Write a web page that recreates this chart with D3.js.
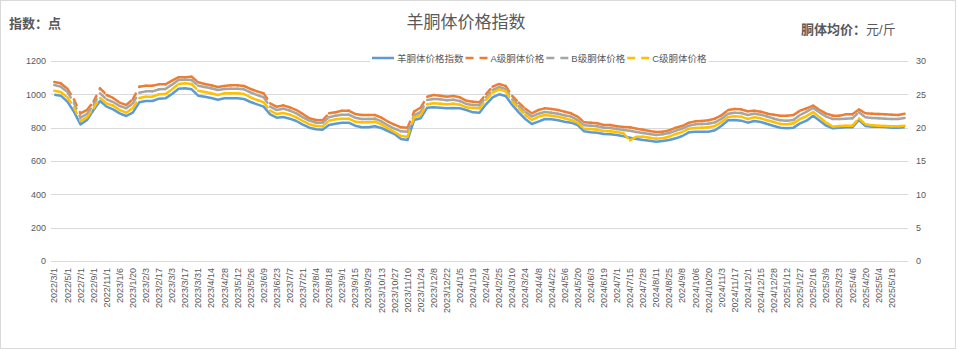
<!DOCTYPE html>
<html>
  <head>
    <meta charset="utf-8">
    <title>羊胴体价格指数</title>
    <style>
      body { margin: 0; background: white; }
      text { font-family: "Liberation Sans", "Noto Sans CJK SC", sans-serif; fill: #595959; }
      .grid line { stroke: #d9d9d9; stroke-width: 1; }
      .seg { stroke-width: 2.5; stroke-linecap: round; stroke-dasharray: 6.5 7.5; }
    </style>
  </head>
  <body>
    <svg width="957" height="351"></svg>
    <script src="https://cdn.jsdelivr.net/npm/d3@7/dist/d3.min.js"></script>
    <script type="application/javascript">
      const dates = [
        '2022/3/1', '2022/4/1', '2022/5/1', '2022/6/1', '2022/7/1', '2022/8/1', '2022/9/1', '2022/10/1',
        '2022/11/1', '2022/12/1', '2023/1/6', '2023/1/13', '2023/1/20', '2023/1/27', '2023/2/3', '2023/2/10',
        '2023/2/17', '2023/2/24', '2023/3/3', '2023/3/10', '2023/3/17', '2023/3/24', '2023/3/31', '2023/4/7',
        '2023/4/14', '2023/4/21', '2023/4/28', '2023/5/5', '2023/5/12', '2023/5/19', '2023/5/26', '2023/6/2',
        '2023/6/9', '2023/6/16', '2023/6/23', '2023/6/30', '2023/7/7', '2023/7/14', '2023/7/21', '2023/7/28',
        '2023/8/4', '2023/8/11', '2023/8/18', '2023/8/25', '2023/9/1', '2023/9/8', '2023/9/15', '2023/9/22',
        '2023/9/29', '2023/10/6', '2023/10/13', '2023/10/20', '2023/10/27', '2023/11/3', '2023/11/10', '2023/11/17',
        '2023/11/24', '2023/12/1', '2023/12/8', '2023/12/15', '2023/12/22', '2023/12/29', '2024/1/5', '2024/1/12',
        '2024/1/19', '2024/1/26', '2024/2/4', '2024/2/18', '2024/2/25', '2024/3/3', '2024/3/10', '2024/3/17',
        '2024/3/24', '2024/3/31', '2024/4/8', '2024/4/15', '2024/4/22', '2024/4/29', '2024/5/6', '2024/5/13',
        '2024/5/20', '2024/5/27', '2024/6/3', '2024/6/11', '2024/6/19', '2024/6/24', '2024/7/1', '2024/7/8',
        '2024/7/15', '2024/7/21', '2024/7/28', '2024/8/4', '2024/8/11', '2024/8/18', '2024/8/25', '2024/9/1',
        '2024/9/8', '2024/9/22', '2024/10/6', '2024/10/13', '2024/10/20', '2024/10/27', '2024/11/3', '2024/11/10',
        '2024/11/17', '2024/11/24', '2024/12/1', '2024/12/8', '2024/12/15', '2024/12/22', '2024/12/28', '2025/1/5',
        '2025/1/12', '2025/1/19', '2025/1/27', '2025/2/9', '2025/2/16', '2025/2/23', '2025/3/9', '2025/3/16',
        '2025/3/23', '2025/3/30', '2025/4/6', '2025/4/13', '2025/4/20', '2025/4/27', '2025/5/4', '2025/5/11',
        '2025/5/18', '2025/5/25', '2025/6/1'
      ];

      // 羊胴体价格指数 (left axis, 点)
      const indexValues = [
        998, 992, 956, 896, 820, 846, 906, 960, 926, 910, 886, 870, 890, 952, 960, 960,
        974, 976, 1002, 1034, 1036, 1030, 992, 986, 978, 968, 976, 976, 976, 972, 954, 940,
        926, 880, 860, 864, 854, 840, 818, 800, 790, 788, 816, 824, 830, 830, 812, 802,
        802, 808, 798, 780, 762, 732, 726, 846, 856, 920, 922, 920, 916, 918, 916, 906,
        892, 890, 940, 982, 1000, 990, 936, 892, 852, 822, 836, 852, 850, 844, 836, 830,
        816, 778, 772, 770, 762, 760, 756, 748, 740, 732, 726, 722, 716, 720, 726, 736,
        750, 772, 776, 776, 776, 784, 812, 844, 846, 842, 830, 840, 834, 822, 810, 800,
        796, 800, 826, 842, 872, 842, 812, 796, 800, 802, 802, 846, 810, 806, 806, 804,
        800, 800, 802
      ];

      // 胴体均价 (right axis, 元/斤)
      const gradeA = [
        26.85, 26.65, 25.85, 24.25, 22.15, 22.65, 23.9, 25.9, 24.9, 24.45, 23.75, 23.4, 24.25, 26.15, 26.3, 26.3,
        26.5, 26.5, 27.05, 27.55, 27.55, 27.65, 26.8, 26.55, 26.35, 26.1, 26.25, 26.35, 26.35, 26.25, 25.8, 25.45,
        25.15, 23.65, 23.15, 23.35, 23.05, 22.65, 22.05, 21.4, 21.15, 21.1, 22.15, 22.3, 22.55, 22.55, 22.05, 21.9,
        21.9, 21.9, 21.5, 20.9, 20.45, 20.05, 20.0, 22.4, 23.0, 24.65, 24.9, 24.8, 24.65, 24.75, 24.55, 24.05,
        23.9, 23.8, 25.05, 26.15, 26.55, 26.25, 24.75, 23.75, 22.85, 22.15, 22.65, 22.9, 22.8, 22.65, 22.4, 22.15,
        21.65, 20.8, 20.75, 20.65, 20.4, 20.4, 20.2, 20.1, 20.05, 19.85, 19.7, 19.5, 19.35, 19.4, 19.6, 20.0,
        20.25, 20.75, 20.95, 21.0, 21.1, 21.35, 21.85, 22.65, 22.8, 22.75, 22.45, 22.55, 22.4, 22.1, 21.95, 21.8,
        21.8, 21.9, 22.55, 22.9, 23.3, 22.65, 22.1, 21.8, 21.8, 22.0, 22.0, 22.75, 22.15, 22.1, 22.05, 22.0,
        21.95, 21.9, 22.1
      ];
      const gradeB = [
        26.4, 26.15, 25.35, 23.75, 21.5, 22.05, 23.4, 25.15, 24.25, 23.85, 23.25, 22.9, 23.65, 25.25, 25.45, 25.45,
        25.75, 25.8, 26.45, 27.15, 27.2, 27.15, 26.3, 26.1, 25.9, 25.65, 25.8, 25.85, 25.85, 25.75, 25.3, 24.9,
        24.55, 23.15, 22.65, 22.85, 22.55, 22.15, 21.55, 21.05, 20.75, 20.75, 21.55, 21.8, 21.95, 21.95, 21.5, 21.3,
        21.3, 21.35, 20.95, 20.35, 19.85, 19.45, 19.4, 21.85, 22.35, 24.15, 24.3, 24.25, 24.1, 24.2, 24.0, 23.55,
        23.4, 23.35, 24.55, 25.65, 26.1, 25.8, 24.25, 23.25, 22.35, 21.65, 22.1, 22.35, 22.25, 22.1, 21.85, 21.65,
        21.15, 20.35, 20.3, 20.2, 20.0, 19.95, 19.8, 19.65, 19.55, 19.35, 19.2, 19.05, 18.9, 19.0, 19.2, 19.55,
        19.85, 20.3, 20.5, 20.55, 20.6, 20.8, 21.35, 22.1, 22.25, 22.2, 21.9, 22.1, 21.95, 21.65, 21.35, 21.1,
        21.05, 21.15, 21.9, 22.4, 22.95, 22.25, 21.65, 21.3, 21.3, 21.35, 21.4, 22.3, 21.55, 21.45, 21.4, 21.35,
        21.3, 21.3, 21.45
      ];
      const gradeC = [
        25.55, 25.35, 24.55, 23.05, 21.0, 21.55, 22.95, 24.45, 23.65, 23.3, 22.65, 22.25, 22.95, 24.45, 24.65, 24.65,
        25.0, 25.05, 25.75, 26.55, 26.65, 26.55, 25.55, 25.35, 25.15, 24.9, 25.15, 25.15, 25.15, 25.05, 24.55, 24.15,
        23.8, 22.55, 22.05, 22.2, 21.95, 21.55, 21.0, 20.5, 20.25, 20.2, 21.05, 21.25, 21.35, 21.35, 20.9, 20.8,
        20.8, 20.9, 20.5, 19.9, 19.35, 18.75, 18.65, 21.55, 21.9, 23.5, 23.65, 23.6, 23.5, 23.6, 23.45, 23.05,
        22.95, 22.9, 24.15, 25.25, 25.75, 25.45, 23.9, 22.9, 21.9, 21.15, 21.65, 21.9, 21.8, 21.65, 21.4, 21.15,
        20.75, 19.85, 19.8, 19.7, 19.5, 19.45, 19.35, 19.15, 18.1, 18.65, 18.65, 18.5, 18.35, 18.4, 18.65, 19.05,
        19.35, 19.85, 19.95, 20.0, 20.05, 20.25, 20.85, 21.6, 21.7, 21.65, 21.3, 21.55, 21.4, 21.1, 20.85, 20.55,
        20.5, 20.65, 21.3, 21.75, 22.35, 21.55, 20.75, 20.15, 20.25, 20.3, 20.3, 21.4, 20.5, 20.35, 20.3, 20.25,
        20.2, 20.2, 20.3
      ];

      const leftTicks = [0, 200, 400, 600, 800, 1000, 1200];
      const rightTicks = [0, 5, 10, 15, 20, 25, 30];
      const seriesNames = ['羊胴体价格指数', 'A级胴体价格', 'B级胴体价格', 'C级胴体价格'];
      const seriesColors = ['#5b9bd5', '#ed7d31', '#a5a5a5', '#ffc000'];

      const svg = d3.select('svg');
      const width = +svg.attr('width');
      const height = +svg.attr('height');
      const plot = {left: 51, right: 908, top: 61, bottom: 261};

      // chart area border
      svg.append('rect')
        .attr('x', 0.5).attr('y', 0.5)
        .attr('width', width - 2).attr('height', height - 3)
        .attr('fill', 'white')
        .attr('stroke', '#d9d9d9');

      const x = d3.scaleBand()
        .domain(d3.range(dates.length))
        .range([plot.left, plot.right])
        .padding(0);
      const cx = i => x(i) + x.bandwidth() / 2;

      const yLeft = d3.scaleLinear().domain([0, 1200]).range([plot.bottom, plot.top]);
      const yRight = d3.scaleLinear().domain([0, 30]).range([plot.bottom, plot.top]);

      // gridlines
      svg.append('g')
        .attr('class', 'grid')
        .selectAll('line')
        .data(leftTicks)
        .enter()
          .append('line')
          .attr('x1', plot.left)
          .attr('x2', plot.right)
          .attr('y1', d => Math.round(yLeft(d)) + 0.5)
          .attr('y2', d => Math.round(yLeft(d)) + 0.5);

      // axes
      const leftAxis = svg.append('g')
        .attr('transform', `translate(${plot.left - 1},0)`)
        .call(d3.axisLeft(yLeft).tickValues(leftTicks).tickFormat(d3.format('d')).tickSize(0).tickPadding(4));
      const rightAxis = svg.append('g')
        .attr('transform', `translate(${plot.right + 8},0)`)
        .call(d3.axisRight(yRight).tickValues(rightTicks).tickSize(0).tickPadding(0));
      const bottomAxis = svg.append('g')
        .attr('transform', `translate(0,${plot.bottom})`)
        .call(d3.axisBottom(x)
          .tickValues(d3.range(0, 129, 2))
          .tickFormat(i => dates[i])
          .tickSize(0));

      [leftAxis, rightAxis, bottomAxis].forEach(a => {
        a.select('.domain').remove();
        a.selectAll('text').style('font-size', '9px').attr('fill', '#595959');
      });
      bottomAxis.selectAll('text')
        .attr('transform', 'rotate(-90)')
        .attr('x', -7)
        .attr('y', 0)
        .attr('dy', '0.35em')
        .style('text-anchor', 'end');

      // index line (solid)
      svg.append('path')
        .datum(indexValues)
        .attr('fill', 'none')
        .attr('stroke', seriesColors[0])
        .attr('stroke-width', 2.5)
        .attr('stroke-linejoin', 'round')
        .attr('d', d3.line().x((d, i) => cx(i)).y(d => yLeft(d)));

      // price lines: dashed, pattern restarts at each point like the original
      [gradeA, gradeB, gradeC].forEach((values, k) => {
        svg.append('g')
          .selectAll('line')
          .data(d3.pairs(values.map((v, i) => [cx(i), yRight(v)])))
          .enter()
            .append('line')
            .attr('class', 'seg')
            .attr('stroke', seriesColors[k + 1])
            .attr('x1', d => d[0][0])
            .attr('y1', d => d[0][1])
            .attr('x2', d => d[1][0])
            .attr('y2', d => d[1][1]);
      });

      // titles
      svg.append('text')
        .attr('x', 466).attr('y', 28)
        .attr('text-anchor', 'middle')
        .style('font-size', '17px')
        .text('羊胴体价格指数');

      svg.append('text')
        .attr('x', 9).attr('y', 28)
        .style('font-size', '13px')
        .style('font-weight', 'bold')
        .text('指数：点');

      const unit = svg.append('text')
        .attr('x', 801).attr('y', 34)
        .style('font-size', '13px');
      unit.append('tspan').style('font-weight', 'bold').text('胴体均价：');
      unit.append('tspan').text('元/斤');

      // legend
      const legend = svg.append('g').attr('transform', 'translate(372,58)');
      const legendBg = legend.append('rect')
        .attr('y', -7).attr('height', 14).attr('fill', 'white');
      let lx = 0;
      seriesNames.forEach((name, k) => {
        legend.append('line')
          .attr('x1', lx).attr('x2', lx + 22)
          .attr('y1', 0).attr('y2', 0)
          .attr('stroke', seriesColors[k])
          .attr('stroke-width', 2.5)
          .attr('stroke-dasharray', k === 0 ? null : '8 6');
        const t = legend.append('text')
          .attr('x', lx + 25).attr('y', 3.5)
          .style('font-size', '9.5px')
          .text(name);
        lx += 25 + t.node().getComputedTextLength() + 2;
      });
      legendBg.attr('x', -2).attr('width', lx + 2);
    </script>
  </body>
</html>
